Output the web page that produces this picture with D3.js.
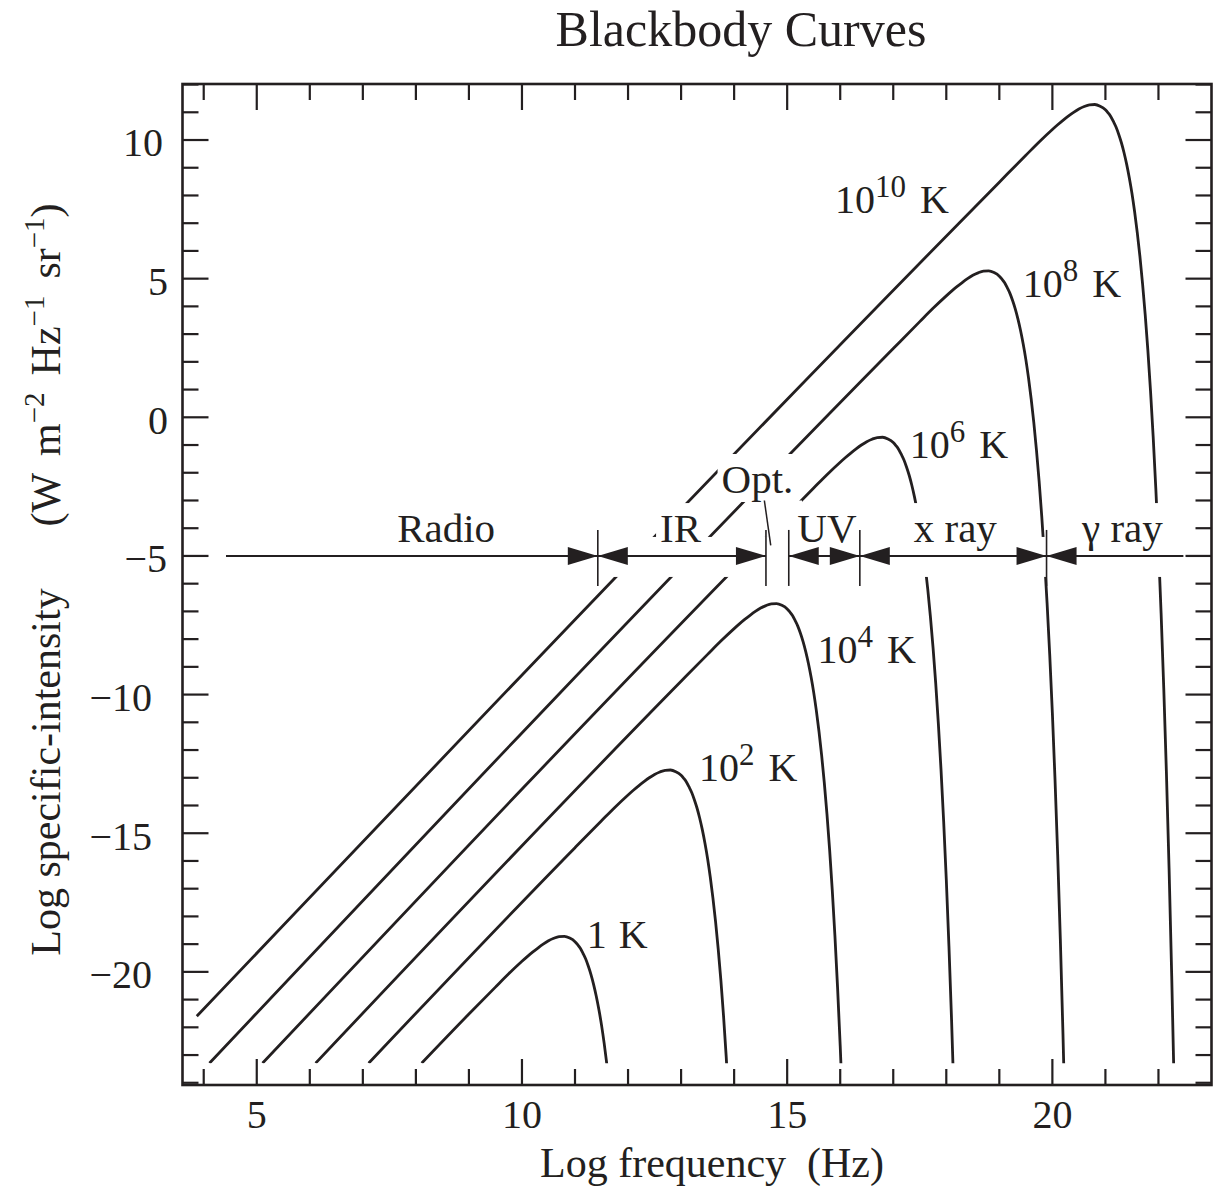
<!DOCTYPE html>
<html><head><meta charset="utf-8">
<script src="https://cdn.jsdelivr.net/npm/d3@7"></script>
<style>
html,body{margin:0;padding:0;background:#fff;}
svg{display:block;font-family:"Liberation Serif","Times New Roman",serif;}
text{fill:#231f20;}
</style></head><body>
<svg id="chart" width="1222" height="1188"></svg>
<script>
// ---------------- data (log10 frequency [Hz], log10 specific intensity) ----------------
const curve1K = [[8.11,-23.29],[9.0,-21.52],[9.5,-20.55],[9.75,-20.07],[10.0,-19.62],[10.1,-19.45],[10.2,-19.29],[10.3,-19.14],[10.4,-19.00],[10.5,-18.88],[10.6,-18.79],[10.7,-18.73],[10.8,-18.72],[10.9,-18.78],[11.0,-18.91],[11.05,-19.02],[11.1,-19.15],[11.15,-19.33],[11.2,-19.53],[11.25,-19.79],[11.3,-20.09],[11.35,-20.45],[11.4,-20.87],[11.45,-21.36],[11.5,-21.92],[11.55,-22.58],[11.6,-23.33]];
const curve1e2K = [[7.11,-23.29],[11.0,-15.52],[11.5,-14.55],[11.75,-14.07],[12.0,-13.62],[12.1,-13.45],[12.2,-13.29],[12.3,-13.14],[12.4,-13.00],[12.5,-12.88],[12.6,-12.79],[12.7,-12.73],[12.8,-12.72],[12.9,-12.78],[13.0,-12.91],[13.05,-13.02],[13.1,-13.15],[13.15,-13.33],[13.2,-13.53],[13.25,-13.79],[13.3,-14.09],[13.35,-14.45],[13.4,-14.87],[13.45,-15.36],[13.5,-15.92],[13.55,-16.58],[13.6,-17.33],[13.65,-18.19],[13.7,-19.18],[13.75,-20.30],[13.8,-21.58],[13.85,-23.04],[13.9,-24.69]];
const curve1e4K = [[6.11,-23.29],[13.0,-9.52],[13.5,-8.55],[13.75,-8.07],[14.0,-7.62],[14.1,-7.45],[14.2,-7.29],[14.3,-7.14],[14.4,-7.00],[14.5,-6.88],[14.6,-6.79],[14.7,-6.73],[14.8,-6.72],[14.9,-6.78],[15.0,-6.91],[15.05,-7.02],[15.1,-7.15],[15.15,-7.33],[15.2,-7.53],[15.25,-7.79],[15.3,-8.09],[15.35,-8.45],[15.4,-8.87],[15.45,-9.36],[15.5,-9.92],[15.55,-10.58],[15.6,-11.33],[15.65,-12.19],[15.7,-13.18],[15.75,-14.30],[15.8,-15.58],[15.85,-17.04],[15.9,-18.69],[15.95,-20.56],[16.0,-22.67],[16.05,-25.07]];
const curve1e6K = [[5.11,-23.29],[15.0,-3.52],[15.5,-2.55],[15.75,-2.07],[16.0,-1.62],[16.1,-1.45],[16.2,-1.29],[16.3,-1.14],[16.4,-1.00],[16.5,-0.88],[16.6,-0.79],[16.7,-0.73],[16.8,-0.72],[16.9,-0.78],[17.0,-0.91],[17.05,-1.02],[17.1,-1.15],[17.15,-1.33],[17.2,-1.53],[17.25,-1.79],[17.3,-2.09],[17.35,-2.45],[17.4,-2.87],[17.45,-3.36],[17.5,-3.92],[17.55,-4.58],[17.6,-5.33],[17.65,-6.19],[17.7,-7.18],[17.75,-8.30],[17.8,-9.58],[17.85,-11.04],[17.9,-12.69],[17.95,-14.56],[18.0,-16.67],[18.05,-19.07],[18.1,-21.77],[18.15,-24.82]];
const curve1e8K = [[4.11,-23.29],[17.0,2.48],[17.5,3.45],[17.75,3.93],[18.0,4.38],[18.1,4.55],[18.2,4.71],[18.3,4.86],[18.4,5.00],[18.5,5.12],[18.6,5.21],[18.7,5.27],[18.8,5.28],[18.9,5.22],[19.0,5.09],[19.05,4.98],[19.1,4.85],[19.15,4.67],[19.2,4.47],[19.25,4.21],[19.3,3.91],[19.35,3.55],[19.4,3.13],[19.45,2.64],[19.5,2.08],[19.55,1.42],[19.6,0.67],[19.65,-0.19],[19.7,-1.18],[19.75,-2.30],[19.8,-3.58],[19.85,-5.04],[19.9,-6.69],[19.95,-8.56],[20.0,-10.67],[20.05,-13.07],[20.1,-15.77],[20.15,-18.82],[20.2,-22.26],[20.25,-26.15]];
const curve1e10K = [[3.87,-21.6],[19.0,8.48],[19.5,9.45],[19.75,9.93],[20.0,10.38],[20.1,10.55],[20.2,10.71],[20.3,10.86],[20.4,11.00],[20.5,11.12],[20.6,11.21],[20.7,11.27],[20.8,11.28],[20.9,11.22],[21.0,11.09],[21.05,10.98],[21.1,10.85],[21.15,10.67],[21.2,10.47],[21.25,10.21],[21.3,9.91],[21.35,9.55],[21.4,9.13],[21.45,8.64],[21.5,8.08],[21.55,7.42],[21.6,6.67],[21.65,5.81],[21.7,4.82],[21.75,3.70],[21.8,2.42],[21.85,0.96],[21.9,-0.69],[21.95,-2.56],[22.0,-4.67],[22.05,-7.07],[22.1,-9.77],[22.15,-12.82],[22.2,-16.26],[22.25,-20.15],[22.3,-24.52]];

const curveSeries = [curve1K, curve1e2K, curve1e4K, curve1e6K, curve1e8K, curve1e10K];
const curveLabelBase = ["1", "10", "10", "10", "10", "10"];
const curveLabelSup  = ["",  "2",  "4",  "6",  "8",  "10"];

const bandNames = ["Radio", "IR", "Opt.", "UV", "x ray", "\u03b3 ray"];
const bandEdges = [4.42, 11.43, 14.6, 15.03, 16.37, 19.89, 22.47];
const bandLevel = -5;

const xMajorTicks = [5, 10, 15, 20];
const xMinorTicks = [4, 6, 7, 8, 9, 11, 12, 13, 14, 16, 17, 18, 19, 21, 22];
const yMajorTicks = [-20, -15, -10, -5, 0, 5, 10];
const yMinorTicks = [-24,-23,-22,-21,-19,-18,-17,-16,-14,-13,-12,-11,-9,-8,-7,-6,-4,-3,-2,-1,1,2,3,4,6,7,8,9,11,12];

const titleText = "Blackbody Curves";
const xTitle = "Log frequency  (Hz)";
const yTitleMain = "Log specific-intensity";

// ---------------- layout ----------------
const INK = "#231f20";
const svg = d3.select("#chart");
const x = d3.scaleLinear().domain([3.6, 23]).range([182.5, 1211.5]);
const y = d3.scaleLinear().domain([-24.08, 12.02]).range([1085, 84]);
const X0 = x.range()[0], X1 = x.range()[1], Y0 = y.range()[1], Y1 = y.range()[0];

// label placements (data coords)
const curveLabelPos = [[11.22,-19.14],[13.34,-13.10],[15.57,-8.86],[17.31,-1.47],[19.44,4.34],[15.90,7.36]];
const bandLabelPos = [[8.57,-4.5],[12.99,-4.5],[14.44,-2.73],[15.75,-4.5],[18.17,-4.5],[21.32,-4.5]];
const yLabelRight = {"10":163, "5":168, "0":168, "-5":167, "-10":152, "-15":152, "-20":152};

// ---------------- curves ----------------
svg.append("defs").append("clipPath").attr("id","plotclip")
  .append("rect").attr("x",X0).attr("y",Y0).attr("width",X1-X0).attr("height", y(-23.3)-Y0);

const line = d3.line().x(d=>x(d[0])).y(d=>y(d[1])).curve(d3.curveMonotoneX);
const gCurves = svg.append("g").attr("clip-path","url(#plotclip)");
gCurves.selectAll("path").data(curveSeries).join("path")
  .attr("d", line).attr("fill","none").attr("stroke",INK)
  .attr("stroke-width",2.8).attr("stroke-linejoin","round").attr("stroke-linecap","butt");

const gMask = svg.append("g");
const gAnn = svg.append("g");

// ---------------- band annotation ----------------
const yb = y(bandLevel);
const maskTop = yb - 19;
gMask.append("rect").attr("x", x(bandEdges[0])).attr("y", maskTop)
  .attr("width", x(bandEdges[bandEdges.length-1]) - x(bandEdges[0])).attr("height", 40).attr("fill","#fff");
gMask.append("rect").attr("x", x(14.52)).attr("y", y(-3.0))
  .attr("width", x(15.28)-x(14.52)).attr("height", maskTop - y(-3.0)).attr("fill","#fff");

const AL = 30, AH = 9;
function arrow(tipX, dir){
  const bx = tipX - dir*AL;
  gAnn.append("path").attr("d", `M${tipX},${yb}L${bx},${yb-AH}L${bx},${yb+AH}Z`).attr("fill",INK);
}
bandNames.forEach((nm,i)=>{
  if (nm === "Opt.") return;
  const a = bandEdges[i], b = bandEdges[i+1];
  gAnn.append("line").attr("x1",x(a)).attr("x2",x(b)).attr("y1",yb).attr("y2",yb)
    .attr("stroke",INK).attr("stroke-width",2);
  if (i > 0) arrow(x(a), -1);
  if (i < bandNames.length-1) arrow(x(b), 1);
});
bandEdges.slice(1,-1).forEach(e=>{
  gAnn.append("line").attr("x1",x(e)).attr("x2",x(e)).attr("y1",yb-26).attr("y2",yb+30)
    .attr("stroke",INK).attr("stroke-width",1.6);
});
gAnn.append("line").attr("x1",x(14.57)).attr("y1",y(-3.0)).attr("x2",x(14.69)).attr("y2",y(-4.62))
  .attr("stroke",INK).attr("stroke-width",1.5);

bandNames.forEach((nm,i)=>{
  const t = gAnn.append("text").attr("x", x(bandLabelPos[i][0])).attr("y", y(bandLabelPos[i][1]))
    .attr("text-anchor","middle").attr("font-size",41).text(nm);
  const bb = t.node().getBBox();
  const h = (nm === "Opt.") ? bb.height + 2 : Math.max(0, maskTop - (bb.y-2)) + 2;
  gMask.append("rect").attr("x", bb.x-4).attr("y", bb.y-2).attr("width", bb.width+8)
    .attr("height", h).attr("fill","#fff");
});

// ---------------- curve labels ----------------
curveLabelBase.forEach((b,i)=>{
  const t = gAnn.append("text").attr("x", x(curveLabelPos[i][0])).attr("y", y(curveLabelPos[i][1]))
    .attr("font-size",40);
  t.append("tspan").text(b);
  if (curveLabelSup[i]) {
    t.append("tspan").attr("dy",-16).attr("font-size",31).text(curveLabelSup[i]);
    t.append("tspan").attr("dy",16).attr("dx",14).text("K");
  } else {
    t.append("tspan").attr("dx",12).text("K");
  }
});

// ---------------- frame & ticks ----------------
const gAxes = svg.append("g");
function ticks(vals, len, side){
  vals.forEach(v=>{
    let l;
    if (side==="bottom") l = [x(v),Y1,x(v),Y1-len];
    if (side==="top") l = [x(v),Y0,x(v),Y0+len];
    if (side==="left") l = [X0,y(v),X0+len,y(v)];
    if (side==="right") l = [X1,y(v),X1-len,y(v)];
    gAxes.append("line").attr("x1",l[0]).attr("y1",l[1]).attr("x2",l[2]).attr("y2",l[3])
      .attr("stroke",INK).attr("stroke-width",2.2);
  });
}
["bottom","top"].forEach(s=>{ ticks(xMajorTicks,26,s); ticks(xMinorTicks,16,s); });
["left","right"].forEach(s=>{ ticks(yMajorTicks,26,s); ticks(yMinorTicks,16,s); });
gAxes.append("rect").attr("x",X0).attr("y",Y0).attr("width",X1-X0).attr("height",Y1-Y0)
  .attr("fill","none").attr("stroke",INK).attr("stroke-width",2.6);

const fmt = d3.format("d");
gAxes.selectAll(".xl").data(xMajorTicks).join("text")
  .attr("x", d=>x(d)).attr("y", 1128).attr("text-anchor","middle").attr("font-size",40).text(fmt);
gAxes.selectAll(".yl").data(yMajorTicks).join("text")
  .attr("x", d=>yLabelRight[String(d)]).attr("y", d=>y(d)).attr("dy","0.41em")
  .attr("text-anchor","end").attr("font-size",40).text(fmt);

// titles
svg.append("text").attr("x",741).attr("y",46).attr("text-anchor","middle")
  .attr("font-size",50).text(titleText);
svg.append("text").attr("x",712).attr("y",1177).attr("text-anchor","middle")
  .attr("font-size",42).style("white-space","pre").text(xTitle);

svg.append("text").attr("transform","translate(60,772) rotate(-90)")
  .attr("text-anchor","middle").attr("font-size",42).text(yTitleMain);
const yu = svg.append("text").attr("transform","translate(60,365) rotate(-90)")
  .attr("text-anchor","middle").attr("font-size",42);
yu.append("tspan").text("(W");
yu.append("tspan").attr("dx",17).text("m");
yu.append("tspan").attr("dy",-16).attr("font-size",29).text("\u22122");
yu.append("tspan").attr("dy",16).attr("dx",17).text("Hz");
yu.append("tspan").attr("dy",-16).attr("font-size",29).text("\u22121");
yu.append("tspan").attr("dy",16).attr("dx",17).text("sr");
yu.append("tspan").attr("dy",-16).attr("font-size",29).text("\u22121");
yu.append("tspan").attr("dy",16).text(")");
</script>
</body></html>
